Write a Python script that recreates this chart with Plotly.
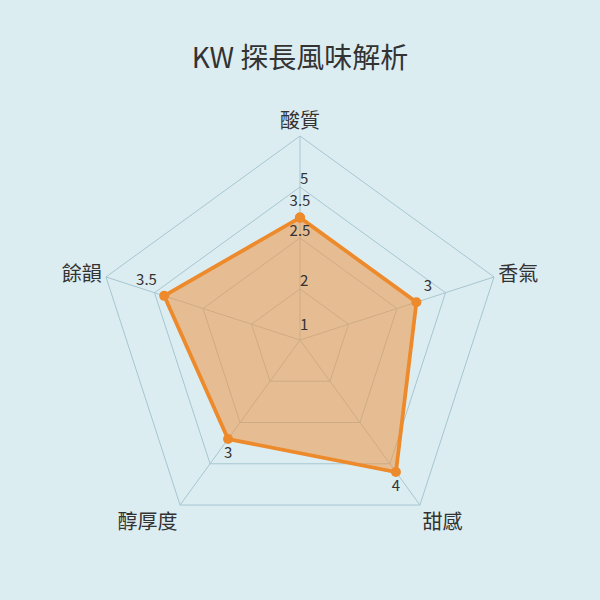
import plotly.graph_objects as go

categories = ["酸質", "香氣", "甜感", "醇厚度", "餘韻"]
scores = [3, 3, 4, 3, 3.5]
score_labels = ["", "3", "4", "3", "3.5"]
score_positions = ["top center", "top right", "bottom center", "bottom center", "top left"]

# radial scale labels as printed on the top spoke
scale_r = [0.34, 1.42, 2.65, 3.38, 3.92]
scale_text = ["1", "2", "2.5", "3.5", "5"]
scale_positions = ["middle right", "middle right", "middle center", "middle center", "middle right"]

BG = "#DCEDF2"
ORANGE = "#EC8A2C"
FONT = "Noto Sans CJK TC"

fig = go.Figure()

fig.add_trace(go.Scatterpolar(
    r=scores + scores[:1],
    theta=categories + categories[:1],
    mode="lines+markers+text",
    fill="toself",
    fillcolor="rgba(238,150,70,0.55)",
    line=dict(color=ORANGE, width=3.8),
    marker=dict(color=ORANGE, size=10),
    text=score_labels + [""],
    textposition=score_positions + ["top center"],
    textfont=dict(family=FONT, size=15, color="#333333"),
    hoverinfo="skip",
    showlegend=False,
))

fig.add_trace(go.Scatterpolar(
    r=scale_r,
    theta=[categories[0]] * len(scale_r),
    mode="text",
    text=scale_text,
    textposition=scale_positions,
    textfont=dict(family=FONT, size=15, color="#333333"),
    hoverinfo="skip",
    showlegend=False,
))

fig.update_layout(
    width=600,
    height=600,
    paper_bgcolor=BG,
    plot_bgcolor=BG,
    margin=dict(l=96, r=96, t=136, b=56),
    title=dict(
        text="KW 探長風味解析",
        x=0.5,
        y=0.903,
        xanchor="center",
        yanchor="middle",
        font=dict(family=FONT, size=28, color="#333333"),
    ),
    polar=dict(
        bgcolor=BG,
        gridshape="linear",
        radialaxis=dict(
            range=[0, 5],
            tickvals=[1.25, 2.5, 3.75, 5],
            showticklabels=False,
            ticks="",
            showline=False,
            gridcolor="#A6C6D0",
            gridwidth=1,
        ),
        angularaxis=dict(
            direction="clockwise",
            rotation=90,
            tickfont=dict(family=FONT, size=20, color="#333333"),
            ticks="",
            linecolor="#A6C6D0",
            gridcolor="#A6C6D0",
        ),
    ),
)

fig.write_html(
    "out.html",
    config={"displayModeBar": False},
    post_script="document.body.style.margin='0';",
)
